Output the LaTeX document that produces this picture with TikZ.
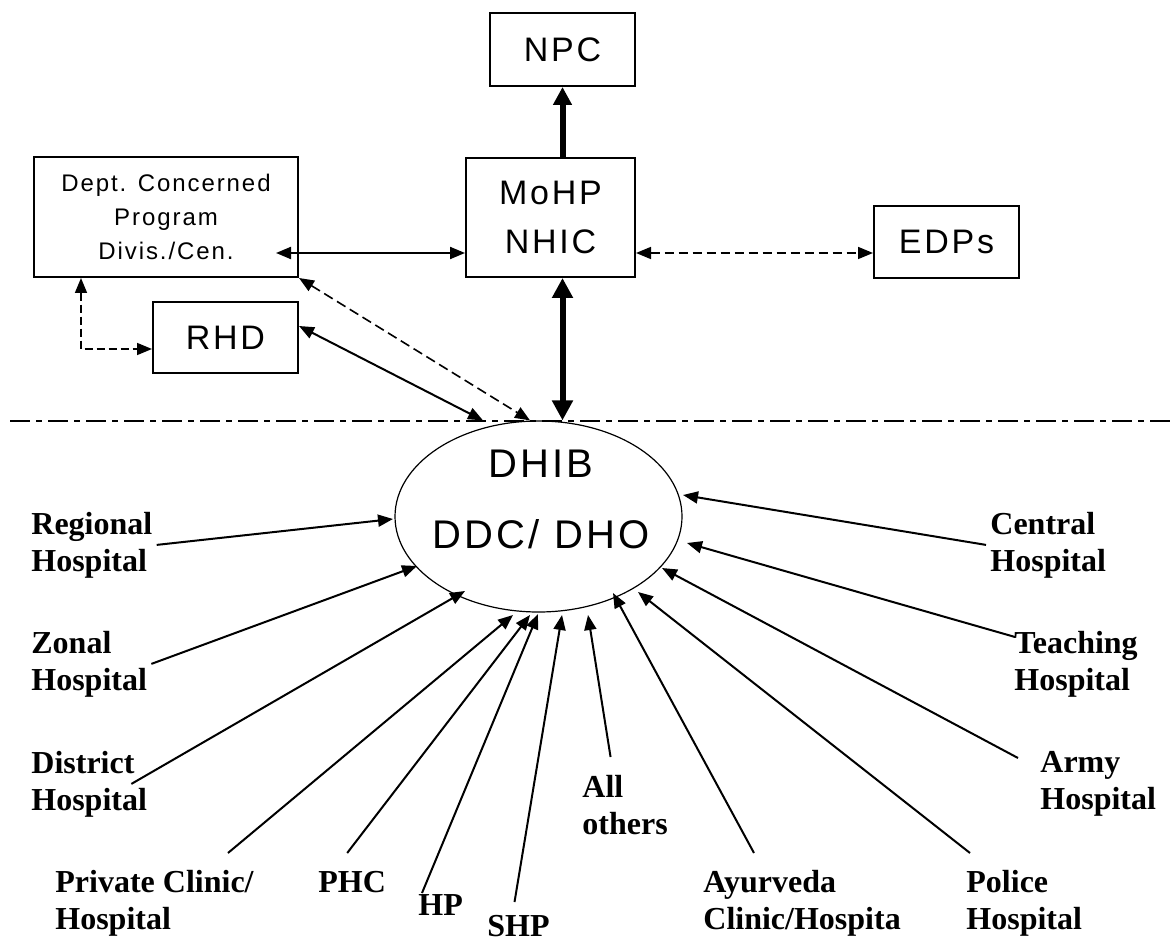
\documentclass[tikz,border=0pt]{standalone}
\usepackage{fontspec}
\usetikzlibrary{shapes.geometric,arrows.meta,calc}
\newfontfamily\boxfont[LetterSpace=8]{Liberation Sans}
\newfontfamily\labelfont{Liberation Serif}

\begin{document}
\begin{tikzpicture}[x=0.5pt, y=0.5pt,
  box/.style={draw, line width=1pt, align=center, inner sep=0pt, font=\boxfont\fontsize{17}{24.5}\selectfont},
  hub/.style={draw, ellipse, line width=0.6pt, minimum width=143.5pt, minimum height=95.5pt, inner sep=0pt},
  hubtext/.style={align=center, inner sep=0pt, font=\boxfont\fontsize{20}{35.5}\selectfont},
  src/.style={anchor=north west, inner sep=2pt, align=left, font=\labelfont\bfseries\fontsize{16}{18.5}\selectfont},
  link/.style={line width=1pt, -{Triangle[length=7.5pt,width=6pt]}},
  both/.style={line width=1pt, {Triangle[length=7.5pt,width=6pt]}-{Triangle[length=7.5pt,width=6pt]}},
  dashboth/.style={both, line width=0.8pt, dash pattern=on 4.5pt off 2.5pt},
  heavy/.style={line width=3pt, -{Triangle[length=9pt,width=9pt]}},
  heavyboth/.style={line width=3pt, {Triangle[length=10pt,width=10pt]}-{Triangle[length=10pt,width=10pt]}},
  sepline/.style={line width=1.2pt, dash pattern=on 10pt off 3pt on 3pt off 3pt}
]
  \useasboundingbox (0,0) rectangle (1176,-940);

  \node[box, minimum width=72.5pt, minimum height=36.5pt] (npc) at (562.5,-49.5) {NPC};
  \node[box, minimum width=84.5pt, minimum height=59.5pt] (mohp) at (550.5,-217.5) {MoHP\\NHIC};
  \node[box, minimum width=72.5pt, minimum height=36pt] (edps) at (946.5,-242) {EDPs};
  \node[box, minimum width=132pt, minimum height=60pt, font=\boxfont\fontsize{12}{17}\selectfont] (dept) at (166,-217) {Dept. Concerned\\Program\\Divis./Cen.};
  \node[box, minimum width=72.5pt, minimum height=35.5pt] (rhd) at (225.5,-337.5) {RHD};

  \coordinate (sepL) at (10,-421);
  \coordinate (sepR) at (1176,-421);
  \draw[sepline] (sepL) -- (sepR);

  \node[hub] (dhib) at (538.5,-516.5) {};
  \node[hubtext] (dhibtxt) at ($(dhib)+(2.5,17.5)$) {DHIB\\DDC/ DHO};

  \node[src] (regional) at (27,-507.5) {Regional\\Hospital};
  \node[src] (zonal) at (27,-626.5) {Zonal\\Hospital};
  \node[src] (district) at (27,-746.5) {District\\Hospital};
  \node[src] (private) at (51,-865.5) {Private Clinic/\\Hospital};
  \node[src] (phc) at (314,-866.5) {PHC};
  \node[src] (hp) at (414,-890.5) {HP};
  \node[src] (shp) at (483,-910.5) {SHP};
  \node[src] (allothers) at (578,-770.5) {All\\others};
  \node[src] (ayurveda) at (699,-865.5) {Ayurveda\\Clinic/Hospita};
  \node[src] (police) at (962,-865.5) {Police\\Hospital};
  \node[src] (army) at (1036,-746.5) {Army\\Hospital};
  \node[src] (teaching) at (1010,-626.5) {Teaching\\Hospital};
  \node[src] (central) at (986,-507.5) {Central\\Hospital};

  \draw[both] ($(dept.east)+(-23,-36)$) -- ($(mohp.west)+(0,-35.5)$);
  \draw[dashboth] ($(mohp.east)+(0,-35.5)$) -- ($(edps.west)+(0,-11)$);
  \draw[heavy] (mohp.north -| npc.south) -- (npc.south);
  \draw[heavyboth] (mohp.south -| npc.south) -- (dhib.north -| npc.south);
  \draw[dashboth, dash pattern=on 4pt off 2pt] ($(dept.south west)+(48,0)$) |- ($(rhd.west)+(0,-11.5)$);
  \draw[both] ($(rhd.east)+(0,11.5)$) -- ($(dhib.north)+(-55.5,0)$);
  \draw[dashboth, dash pattern=on 5pt off 2.5pt] (dept.south east) -- ($(dhib.north)+(-8.5,0)$);

  \draw[link] (regional.east) -- ($(dhib)+(-145.5,-2.5)$);
  \draw[link] (zonal.east) -- ($(dhib)+(-121.5,-49.5)$);
  \draw[link] ($(district.east)+(-20,0)$) -- ($(dhib)+(-73.5,-74.5)$);
  \draw[link] ($(private.north east)+(-30,12.5)$) -- ($(dhib)+(-25.5,-98.5)$);
  \draw[link] ($(phc.north)+(-5,13.5)$) -- ($(dhib)+(-8.5,-98.5)$);
  \draw[link] ($(hp.north west)+(8,-2.5)$) -- ($(dhib)+(-0.5,-97.5)$);
  \draw[link] ($(shp.north)+(-4,8.5)$) -- ($(dhib)+(23.5,-98.5)$);
  \draw[link] ($(allothers.north)+(-14.5,13.5)$) -- ($(dhib)+(49.5,-98.5)$);
  \draw[link] ($(ayurveda.north west)+(55,12.5)$) -- ($(dhib)+(74.5,-76.5)$);
  \draw[link] ($(police.north west)+(8,12.5)$) -- ($(dhib)+(99.5,-75.5)$);
  \draw[link] ($(army.north west)+(-18,-11.5)$) -- ($(dhib)+(123.5,-51.5)$);
  \draw[link] ($(teaching.north west)+(5,-10.5)$) -- ($(dhib)+(148.5,-26.5)$);
  \draw[link] (central.west) -- ($(dhib)+(144.5,21.5)$);
\end{tikzpicture}
\end{document}
